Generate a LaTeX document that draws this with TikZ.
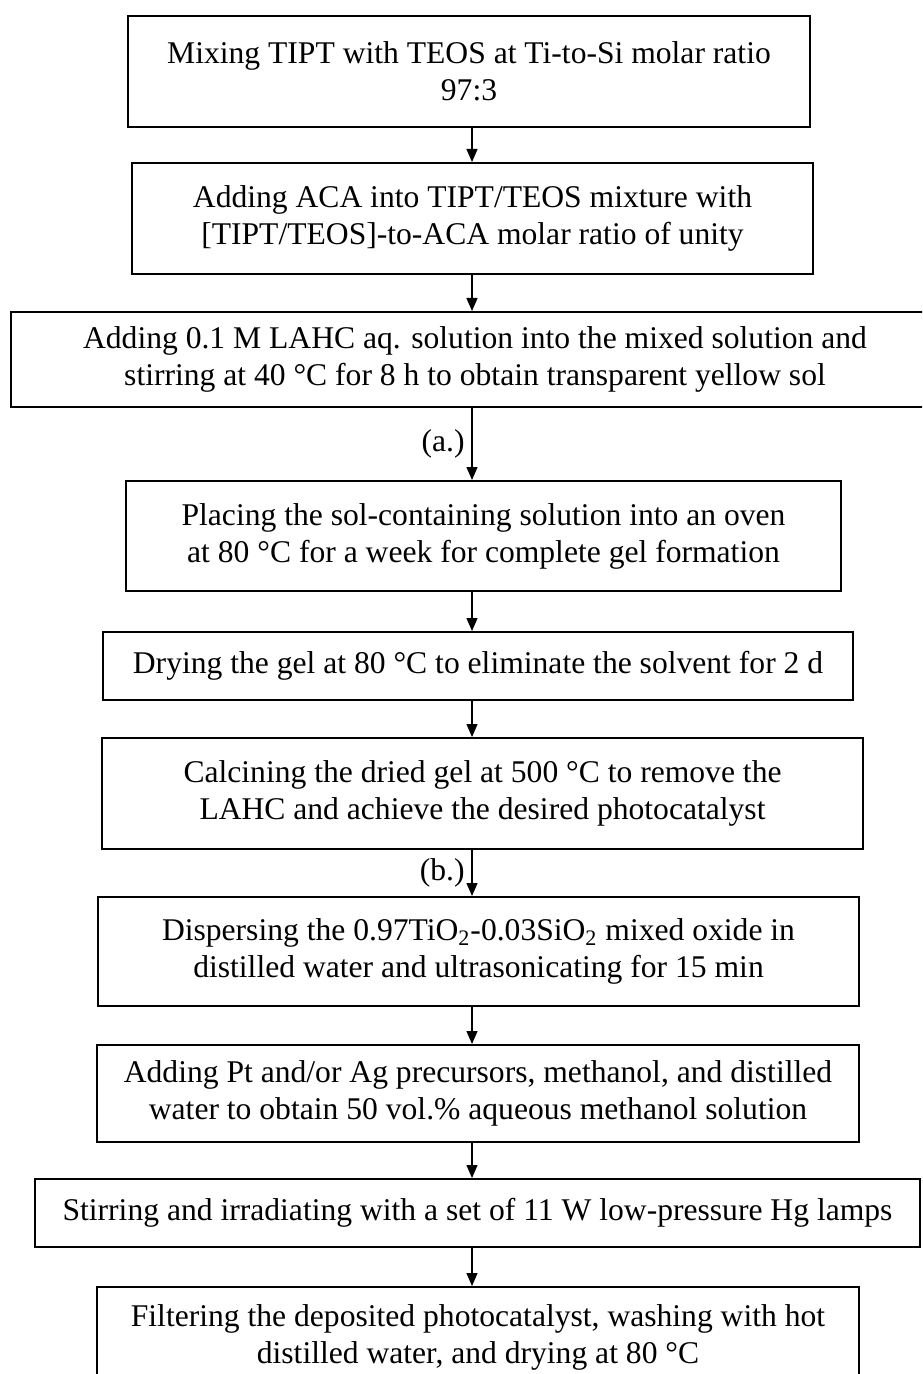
\documentclass[tikz,border=0pt]{standalone}
\usepackage{fontspec}
\setmainfont{Liberation Serif}
\usetikzlibrary{arrows.meta}

\begin{document}
\begin{tikzpicture}[x=0.5pt, y=-0.5pt,
  procbox/.style={draw, line width=1pt, align=center, inner sep=0pt,
    font=\fontsize{15.8}{18.5}\selectfont},
  flow/.style={-{Triangle[length=6.5pt, width=5.5pt]}, line width=0.7pt},
  steplabel/.style={left, font=\fontsize{15.8}{18.5}\selectfont}]
  \useasboundingbox (0,0) rectangle (922,1374);
  \clip (0,0) rectangle (922,1374);
  \coordinate (spine) at (472,0);
  \node[procbox, minimum width=341pt, minimum height=55.5pt] (s1) at (469,71.5)
    {Mixing TIPT with TEOS at Ti-to-Si molar ratio\\97:3};
  \node[procbox, minimum width=340.5pt, minimum height=55.5pt] (s2) at (472.5,218.5)
    {Adding ACA into TIPT/TEOS mixture with\\{[}TIPT/TEOS{]}-to-ACA molar ratio of unity};
  \node[procbox, minimum width=464.5pt, minimum height=47.5pt] (s3) at (475,359.5)
    {Adding 0.1 M LAHC aq. solution into the mixed solution and\\stirring at 40 °C for 8 h to obtain transparent yellow sol};
  \node[procbox, minimum width=357.5pt, minimum height=55pt] (s4) at (483.5,536)
    {Placing the sol-containing solution into an oven\\at 80 °C for a week for complete gel formation};
  \node[procbox, minimum width=375pt, minimum height=34pt] (s5) at (478,666)
    {Drying the gel at 80 °C to eliminate the solvent for 2 d};
  \node[procbox, minimum width=380.5pt, minimum height=55.5pt] (s6) at (482.5,793.5)
    {Calcining the dried gel at 500 °C to remove the\\LAHC and achieve the desired photocatalyst};
  \node[procbox, minimum width=380.5pt, minimum height=54.5pt] (s7) at (478.5,951.5)
    {Dispersing the 0.97TiO\textsubscript{2}-0.03SiO\textsubscript{2} mixed oxide in\\distilled water and ultrasonicating for 15 min};
  \node[procbox, minimum width=381pt, minimum height=48.5pt] (s8) at (478,1093.5)
    {Adding Pt and/or Ag precursors, methanol, and distilled\\water to obtain 50 vol.\% aqueous methanol solution};
  \node[procbox, minimum width=442.5pt, minimum height=34pt] (s9) at (477.5,1213)
    {Stirring and irradiating with a set of 11 W low-pressure Hg lamps};
  \node[procbox, minimum width=381pt, minimum height=50pt] (s10) at (478,1337)
    {Filtering the deposited photocatalyst, washing with hot\\distilled water, and drying at 80 °C};
  \foreach \a/\b in {s1/s2,s2/s3,s4/s5,s5/s6,s7/s8,s8/s9,s9/s10}
    \draw[flow] (\a.south -| spine) -- (\b.north -| spine);
  \draw[flow] (s3.south -| spine) -- (s4.north -| spine) node[midway, steplabel] {(a.)};
  \draw[flow] (s6.south -| spine) -- (s7.north -| spine) node[midway, steplabel] {(b.)};
\end{tikzpicture}
\end{document}
